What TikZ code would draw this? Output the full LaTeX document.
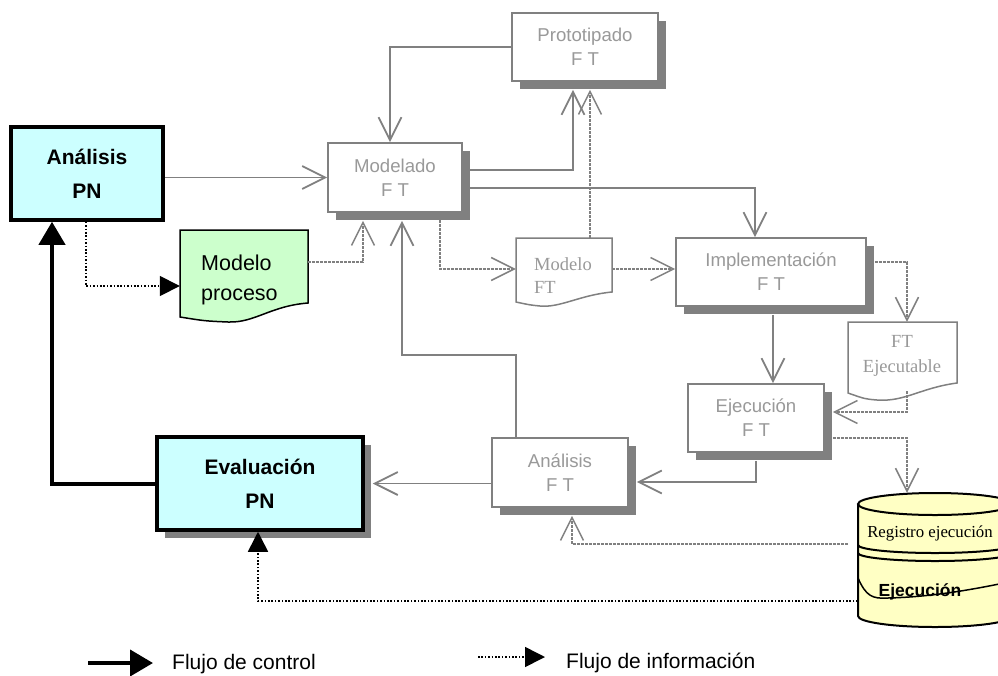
\documentclass[tikz,border=0pt]{standalone}
\usepackage{fontspec}
\setmainfont{Liberation Sans}
\newfontfamily\docserif{Liberation Serif}
\usetikzlibrary{arrows.meta,shadows,calc}

\definecolor{linegray}{HTML}{808080}
\definecolor{textgray}{HTML}{999999}
\definecolor{pnfill}{HTML}{CCFFFF}
\definecolor{docfill}{HTML}{CCFFCC}
\definecolor{dbfill}{HTML}{FFFFC4}

\begin{document}
\begin{tikzpicture}[x=1pt,y=-1pt,
  ftshadow/.style={drop shadow={shadow xshift=8pt, shadow yshift=-8pt, fill=linegray, opacity=1}},
  ftbox/.style={rectangle, draw=linegray, line width=1.6pt, fill=white, inner sep=0pt,
    align=center, text=textgray, font=\fontsize{18.6}{24}\selectfont, ftshadow},
  pnbox/.style={rectangle, draw=black, line width=3.5pt, fill=pnfill, inner sep=0pt,
    align=center, font=\bfseries\fontsize{21}{34}\selectfont},
  frame/.style={rectangle, draw=none, inner sep=0pt},
  doctext/.style={inner sep=0pt, text=textgray, font=\docserif\fontsize{18}{24}\selectfont},
  ctl/.style={draw=linegray, line width=1.8pt, -{Straight Barb[length=23pt,width=23pt]}},
  inf/.style={draw=linegray, line width=1.5pt, dash pattern=on 3pt off 1pt,
    -{Straight Barb[length=23pt,width=23pt]}},
  ctrlk/.style={draw=black, line width=4pt, -{Triangle[length=23pt,width=26pt]}},
  infk/.style={draw=black, line width=1.6pt, dash pattern=on 1.6pt off 1.8pt,
    -{Triangle[length=20pt,width=20pt]}},
  legend/.style={inner sep=0pt, font=\fontsize{21}{25}\selectfont},
  dbline/.style={draw=black, line width=2pt}
]
\useasboundingbox (0,0) rectangle (998,675);

% ---- process boxes ----
\node[ftbox, minimum width=146pt, minimum height=68pt] (proto) at (585,47) {Prototipado\\F T};
\node[ftbox, minimum width=134pt, minimum height=69pt] (modelado) at (395,177.5) {Modelado\\F T};
\node[ftbox, minimum width=190pt, minimum height=68pt] (impl) at (771,272) {Implementación\\F T};
\node[ftbox, minimum width=136pt, minimum height=68pt] (ejec) at (756,418) {Ejecución\\F T};
\node[ftbox, minimum width=136pt, minimum height=69pt] (anft) at (560,472.5) {Análisis\\F T};
\node[pnbox, minimum width=152pt, minimum height=93pt] (anpn) at (87,173.5) {Análisis\\PN};
\node[pnbox, ftshadow, minimum width=206pt, minimum height=93pt] (evpn) at (260,483.5) {Evaluación\\PN};

% ---- documents ----
\draw[fill=docfill, draw=black, line width=1.5pt]
  (180,230) -- (308,230) -- (308,303) .. controls (270,306) and (255,323) .. (228,322)
  .. controls (205,321) .. (180,317) -- cycle;
\node[frame, minimum width=128pt, minimum height=73pt] (mproc) at (244,266.5) {};
\node[anchor=west, align=left, inner sep=0pt, font=\fontsize{21.5}{30}\selectfont] (mproctext) at (201,280) {Modelo\\proceso};

\draw[fill=white, draw=linegray, line width=1.5pt]
  (516,238) -- (612,238) -- (612,292) .. controls (580,295) and (560,308) .. (540,306)
  .. controls (530,305) .. (516,302) -- cycle;
\node[frame, minimum width=96pt, minimum height=62pt] (mft) at (564,269) {};
\node[doctext, anchor=west, align=left, font=\docserif\fontsize{18.5}{23}\selectfont] (mfttext) at (534,275.5) {Modelo\\FT};

\draw[fill=white, draw=linegray, line width=1.5pt]
  (848,322) -- (957,322) -- (957,383) .. controls (920,388) and (905,402) .. (877,400)
  .. controls (865,399) .. (848,393) -- cycle;
\node[frame, minimum width=109pt, minimum height=71pt] (ftx) at (902.5,357.5) {};
\node[doctext, align=center, font=\docserif\fontsize{18.5}{25}\selectfont] (ftxtext) at (902,355.5) {FT\\Ejecutable};

% ---- execution log store ----
\fill[dbfill] (858,504) -- (858,616) arc[start angle=180, end angle=0, x radius=77, y radius=11]
  -- (1012,504) -- cycle;
\draw[dbline, fill=dbfill] (935,504) ellipse[x radius=77, y radius=11];
\draw[dbline] (858,504) -- (858,616) arc[start angle=180, end angle=0, x radius=77, y radius=11] -- (1012,504);
\draw[dbline] (858,545) arc[start angle=180, end angle=0, x radius=77, y radius=8];
\draw[dbline] (858,553) arc[start angle=180, end angle=0, x radius=77, y radius=8];
\draw[black, line width=1.5pt] (858,578) .. controls (866,596) and (872,599) .. (888,598)
  .. controls (930,597) and (970,590) .. (1004,583);
\node[frame, minimum width=154pt, minimum height=134pt] (cyl) at (935,560) {};
\node[inner sep=0pt, font=\docserif\fontsize{16.8}{20}\selectfont] (regtext) at (930,533) {Registro ejecución};
\node[inner sep=0pt, font=\bfseries\fontsize{17.5}{20}\selectfont] (ejtext) at (920,592) {Ejecución};

% ---- control flow (gray) ----
\draw[ctl] (anpn.east |- modelado.west) -- (modelado.west);
\draw[ctl] (proto.west) -| ([xshift=-5pt]modelado.north);
\draw[ctl] ([yshift=7.5pt]modelado.east) -| ([xshift=-12pt,yshift=-8pt]proto.south);
\draw[ctl] ([yshift=-10.5pt]modelado.east) -| ([xshift=-16pt]impl.north);
\draw[ctl] ([xshift=2pt,yshift=-8pt]impl.south) -- ([xshift=17pt]ejec.north);
\draw[ctl] ([yshift=-8pt]ejec.south) |- ([xshift=8pt,yshift=-9.5pt]anft.east);
\draw[ctl] ([xshift=-44pt]anft.north) -- ++(0,-82) -| ([xshift=7pt,yshift=-8pt]modelado.south);
\draw[ctl] (anft.west |- evpn.east) -- ([xshift=8pt]evpn.east);

% ---- information flow (gray) ----
\draw[inf] ([yshift=4.5pt]mproc.east) -| ([xshift=-32pt,yshift=-8pt]modelado.south);
\draw[inf] ([xshift=45pt,yshift=-7pt]modelado.south) |- (mft.west);
\draw[inf] (mft.east) -- (mft.east -| impl.west);
\draw[inf] ([xshift=26pt]mft.north) -- ([xshift=5pt,yshift=-8pt]proto.south);
\draw[inf] ([yshift=10pt]impl.east) -| ([xshift=4.5pt]ftx.north);
\draw[inf] ([xshift=4.5pt,yshift=2pt]ftx.south) |- ([xshift=8pt,yshift=6pt]ejec.east);
\draw[inf] ([yshift=-20pt]ejec.east) -| ([xshift=-28pt]cyl.north);
\draw[inf] ([xshift=-10pt,yshift=16pt]cyl.west) -| ([xshift=12pt,yshift=-8pt]anft.south);

% ---- flows of the PN level (black) ----
\draw[infk] ([xshift=-1pt]anpn.south) |- ([yshift=-19.5pt]mproc.west);
\draw[ctrlk] (evpn.west) -| ([xshift=-35pt]anpn.south);
\draw[infk] ([yshift=-41pt]cyl.west) -| ([xshift=-2pt]evpn.south);

% ---- legend ----
\coordinate (lgc1) at (88,663);
\coordinate (lgc2) at (153,663);
\draw[ctrlk] (lgc1) -- (lgc2);
\node[legend, anchor=base west] (lgctext) at (172,669) {Flujo de control};
\coordinate (lgi1) at (478,657);
\coordinate (lgi2) at (545,657);
\draw[infk] (lgi1) -- (lgi2);
\node[legend, anchor=base west] (lgitext) at (566,668) {Flujo de información};
\end{tikzpicture}
\end{document}
